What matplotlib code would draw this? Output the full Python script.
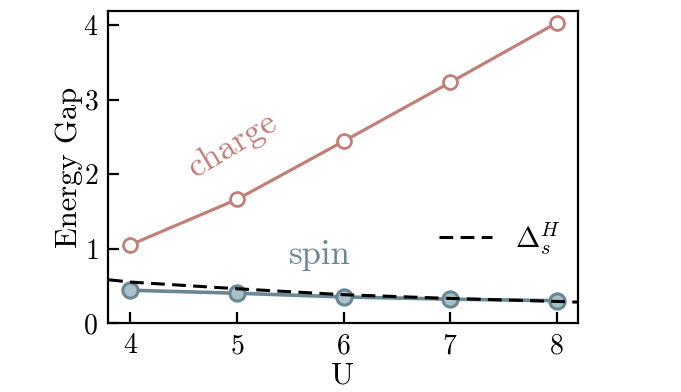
import matplotlib
matplotlib.use("Agg")
import matplotlib.pyplot as plt

plt.rcParams['font.family'] = 'serif'
plt.rcParams['font.serif'] = ['cmr10']
plt.rcParams['mathtext.fontset'] = 'cm'
plt.rcParams['axes.formatter.use_mathtext'] = True

U = [4, 5, 6, 7, 8]
charge = [1.05, 1.66, 2.44, 3.23, 4.03]
spin = [0.44, 0.40, 0.35, 0.32, 0.30]
U_h = [3.8, 4, 5, 6, 7, 8, 8.2]
delta_h = [0.58, 0.55, 0.46, 0.38, 0.33, 0.29, 0.28]

c_charge = '#c0807a'
c_spin_edge = '#6a8794'
c_spin_face = '#a8c0c7'

fig = plt.figure(figsize=(6.81, 3.92), dpi=100)
ax = fig.add_axes([108/681, 1-323/392, 470/681, 312/392])

ax.plot(U_h, delta_h, '--', color='black', lw=2.2, dashes=(4.5, 2.4), label=r'$\Delta_s^H$', zorder=3)
ax.plot(U, charge, '-o', color=c_charge, lw=2.3, ms=10, mfc='white', mec=c_charge, mew=2, zorder=2)
ax.plot(U, spin, '-o', color=c_spin_edge, lw=2.6, ms=11, mfc=c_spin_face, mec=c_spin_edge, mew=2.2, zorder=2)

ax.set_xlim(3.79, 8.2)
ax.set_ylim(0, 4.19)
ax.set_xticks(U)
ax.set_yticks([0, 1, 2, 3, 4])
ax.tick_params(direction='in', length=8, width=1.6, labelsize=20, pad=7)
for s in ax.spines.values():
    s.set_linewidth(1.6)
ax.set_xlabel('U', fontsize=22, labelpad=2)
ax.set_ylabel('Energy Gap', fontsize=22, labelpad=0)

ax.text(4.96, 2.39, 'charge', fontsize=25, color=c_charge, rotation=31,
        ha='center', va='center')
ax.text(5.78, 0.91, 'spin', fontsize=25, color=c_spin_edge, ha='center', va='center')

leg = ax.legend(loc='center left', bbox_to_anchor=((439 - 108) / 470, 0.27), frameon=False,
                fontsize=21, handlelength=1.8, handletextpad=0.8, borderpad=0, borderaxespad=0)

fig.savefig('out.png', dpi=100)
